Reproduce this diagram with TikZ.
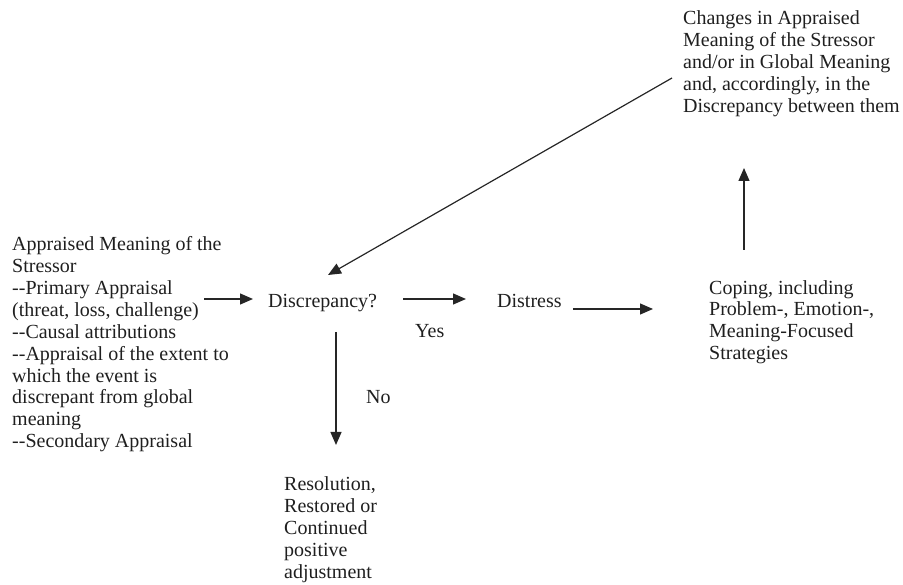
\documentclass[tikz,border=0pt]{standalone}
\usepackage{fontspec}
\setmainfont{Liberation Serif}
\usetikzlibrary{arrows.meta,calc}
\tikzset{
  txt/.style={inner sep=0pt, anchor=base west, align=left, text=black!88,
    font=\fontsize{20}{22}\selectfont},
  arr/.style={draw=black!85, line width=1.2pt, -{Triangle[length=13pt,width=11pt]}}
}
\begin{document}
\begin{tikzpicture}[x=1pt,y=-1pt]
\useasboundingbox (0,0) rectangle (903,585);
% multi-line nodes: base anchor = baseline of the last line
\node[txt] (stress) at (12,448) {Appraised Meaning of the\\Stressor\\-{}-Primary Appraisal\\(threat, loss, challenge)\\-{}-Causal attributions\\-{}-Appraisal of the extent to\\which the event is\\discrepant from global\\meaning\\-{}-Secondary Appraisal};
\node[txt] (disc) at (268,308) {Discrepancy?};
\node[txt] (distress) at (497,308) {Distress};
\node[txt] (coping) at (709,360) {Coping, including\\Problem-, Emotion-,\\Meaning-Focused\\Strategies};
\node[txt] (changes) at (683,113) {Changes in Appraised\\Meaning of the Stressor\\and/or in Global Meaning\\and, accordingly, in the\\Discrepancy between them};
\node[txt] (resol) at (284,578) {Resolution,\\Restored or\\Continued\\positive\\adjustment};
\node[txt] (yes) at (415,338) {Yes};
\node[txt] (no) at (366,404) {No};
\coordinate (s1) at (204,299);
\draw[arr] (s1) -- ($(disc.west |- s1)+(-15,0)$);
\draw[arr] ($(disc.east |- 0,299)+(26,0)$) -- ($(distress.west |- 0,299)+(-31,0)$);
\draw[arr] ($(distress.east |- 0,309)+(11,0)$) -- ($(coping.west |- 0,309)+(-56,0)$);
\coordinate (d1) at (336,332);
\draw[arr] (d1) -- (d1 |- 0,445);
\coordinate (c1) at (744,250);
\draw[arr] (c1) -- (c1 |- 0,168);
\coordinate (ch1) at (672,78);
\draw[arr] (ch1) -- (328,275);
\end{tikzpicture}
\end{document}
